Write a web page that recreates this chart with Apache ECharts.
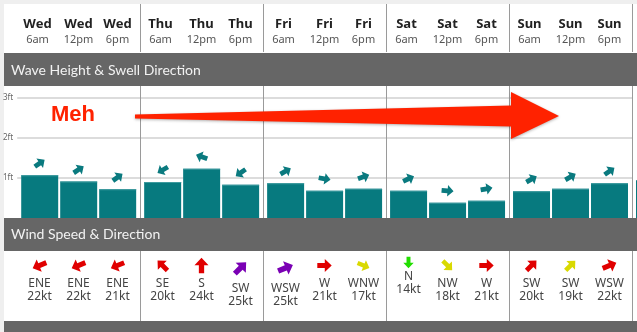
<!DOCTYPE html>
<html><head><meta charset="utf-8">
<script src="https://cdn.jsdelivr.net/npm/echarts@6/dist/echarts.min.js"></script>
<style>html,body{margin:0;padding:0;background:#efefef;}#c{width:637px;height:332px;}</style>
</head><body><div id="c"></div>
<script>
// ---- data ----
const slotLabels = ['Wed 6am','Wed 12pm','Wed 6pm','Thu 6am','Thu 12pm','Thu 6pm','Fri 6am','Fri 12pm','Fri 6pm','Sat 6am','Sat 12pm','Sat 6pm','Sun 6am','Sun 12pm','Sun 6pm','Mon 6am'];
const waveHeightFt = [1.07,0.91,0.72,0.90,1.23,0.83,0.87,0.68,0.73,0.68,0.38,0.43,0.67,0.73,0.87,0.95];
const swellArrowDeg = [55,57,54,240,290,235,60,100,70,65,95,80,60,60,55,60];
const windDir = ['ENE','ENE','ENE','SE','S','SW','WSW','W','WNW','N','NW','W','SW','SW','WSW'];
const windKt = [22,22,21,20,24,25,25,21,17,14,18,21,20,19,22];
const yTicksFt = [1,2,3];
const panelTitles = ['Wave Height & Swell Direction','Wind Speed & Direction'];
const noteText = 'Meh';

const compass = {N:0,NNE:22.5,NE:45,ENE:67.5,E:90,ESE:112.5,SE:135,SSE:157.5,S:180,SSW:202.5,SW:225,WSW:247.5,W:270,WNW:292.5,NW:315,NNW:337.5};

const WIND_SHAPE = [[0,-0.5],[0.45,-0.02],[0.17,-0.02],[0.17,0.5],[-0.17,0.5],[-0.17,-0.02],[-0.45,-0.02]];
const SWELL_SHAPE = [[0,-0.5],[0.48,0],[0.2,0],[0.2,0.5],[-0.2,0.5],[-0.2,0],[-0.48,0]];
function arrowPts(cx, cy, L, deg, shape){
  const t = deg*Math.PI/180, c = Math.cos(t), s = Math.sin(t);
  return shape.map(([u,v]) => [cx + (u*c - v*s)*L, cy + (u*s + v*c)*L]);
}
const slotShift = i => (1 - i % 3) * 2;

const waveData = waveHeightFt.map((h,i) => [i, h, swellArrowDeg[i]]);
const windData = windKt.map((k,i) => [i, k, (compass[windDir[i]] + 180) % 360]);

const chart = echarts.init(document.getElementById('c'), null, {renderer:'canvas'});
const sepInterval = (idx) => idx > 0 && idx % 3 === 0;
const sepLine = {show:true, interval: sepInterval, lineStyle:{color:'#9a9a9a', width:1}};
const FONT = '"Noto Sans", "DejaVu Sans", sans-serif';
const TFONT = 'Lato, "Noto Sans", sans-serif';
const baseX = {type:'category', data: slotLabels, min:0, max:14, boundaryGap:true, axisLine:{show:false}, axisTick:{show:false}, splitLine: sepLine};

chart.setOption({
  backgroundColor:'#efefef',
  animation:false,
  grid:[
    {left:17, right:5, top:4, height:48},
    {left:17, right:5, top:86, height:132},
    {left:17, right:5, top:251, height:70}
  ],
  xAxis:[
    Object.assign({}, baseX, {gridIndex:0, position:'bottom',
      axisLabel:{show:true, inside:true, margin:5, interval:0,
        formatter:(v, i) => { const p = v.split(' '); const k = (i % 3 === 2) ? 'R' : ''; return `{d${k}|${p[0]}}\n{t${k}|${p[1]}}`; },
        rich:{
          d:{fontFamily:FONT, fontWeight:'bold', fontSize:13, color:'#222', lineHeight:15},
          t:{fontFamily:FONT, fontSize:11, color:'#555', lineHeight:15},
          dR:{fontFamily:FONT, fontWeight:'bold', fontSize:13, color:'#222', lineHeight:15, padding:[0,4,0,0]},
          tR:{fontFamily:FONT, fontSize:11, color:'#555', lineHeight:15, padding:[0,4,0,0]}
        }}}),
    Object.assign({}, baseX, {gridIndex:1, axisLabel:{show:false}}),
    Object.assign({}, baseX, {gridIndex:2, axisLabel:{show:false}})
  ],
  yAxis:[
    {type:'value', gridIndex:0, min:0, max:1, show:false},
    {type:'value', gridIndex:1, min:0, max:3.3, interval:1,
      axisLine:{show:false}, axisTick:{show:false},
      axisLabel:{margin:4, fontSize:8, color:'#666', fontFamily:FONT,
        formatter: v => yTicksFt.includes(v) ? v + 'ft' : ''},
      splitLine:{show:true, showMinLine:false, showMaxLine:false, lineStyle:{color:'#dcdcdc', width:2}}},
    {type:'value', gridIndex:2, min:0, max:1, show:false}
  ],
  visualMap:{show:false, type:'piecewise', seriesIndex:1, dimension:1,
    pieces:[{lt:15, color:'#22dd00'},{gte:15, lt:20, color:'#d9d900'},{gte:20, lt:25, color:'#e00000'},{gte:25, color:'#7a00b4'}]},
  series:[
    {type:'custom', xAxisIndex:1, yAxisIndex:1, data: waveData, clip:false,
      renderItem:(params, api) => {
        const i = api.value(0), v = api.value(1), deg = api.value(2);
        const base = api.coord([i, 0]), top = api.coord([i, v]);
        const cx = base[0] + slotShift(i);
        const w = api.size([1, 0])[0] - 4;
        return {type:'group', children:[
          {type:'rect', shape:{x:cx - w/2, y:top[1], width:w, height:base[1]-top[1]}, style:{fill:'#077a7f'}},
          {type:'rect', shape:{x:cx - w/2, y:top[1], width:w, height:1}, style:{fill:'#3d9a9e'}},
          {type:'polygon', shape:{points: arrowPts(cx, top[1] - 12, 12, deg, SWELL_SHAPE)}, style:{fill:'#0a7a7f'}}
        ]};
      }},
    {type:'custom', xAxisIndex:2, yAxisIndex:2, data: windData, clip:false,
      renderItem:(params, api) => {
        const i = api.value(0), kt = api.value(1), deg = api.value(2);
        const cx = api.coord([i, 0])[0] + slotShift(i);
        const top = params.coordSys.y;
        const tier = kt < 15 ? 0 : (kt < 25 ? 1 : 2);
        const L = 6 + kt * 0.4;
        const ay = top + [11.5, 14.5, 17][tier];
        const ty = top + [26, 33, 38][tier];
        const color = api.visual('color');
        const ts = {align:'center', verticalAlign:'middle', font:'12px ' + FONT, fill:'#444'};
        return {type:'group', children:[
          {type:'polygon', shape:{points: arrowPts(cx, ay, L, deg, WIND_SHAPE)}, style:{fill:color}},
          {type:'text', style:Object.assign({text: windDir[i], x:cx, y:ty}, ts)},
          {type:'text', style:Object.assign({text: kt + 'kt', x:cx, y:ty + 12.5}, ts)}
        ]};
      }}
  ],
  graphic:[
    {type:'rect', z:-10, shape:{x:4, y:4, width:640, height:330}, style:{fill:'#ffffff'}},
    {type:'rect', z:-5, shape:{x:4, y:53, width:640, height:33}, style:{fill:'#666666'}},
    {type:'rect', z:-5, shape:{x:4, y:218, width:640, height:33}, style:{fill:'#666666'}},
    {type:'rect', z:-5, shape:{x:4, y:321, width:640, height:12}, style:{fill:'#666666'}},
    {type:'text', z:10, style:{text:panelTitles[0], x:11, y:70, verticalAlign:'middle', font:'14px ' + TFONT, fill:'#f2f2f2'}},
    {type:'text', z:10, style:{text:panelTitles[1], x:11, y:234.5, verticalAlign:'middle', font:'14px ' + TFONT, fill:'#f2f2f2'}},
    {type:'polygon', z:100, shape:{points:[[135,114.5],[511,105.5],[511,92],[559,116],[511,139],[511,126.5],[135,118.5]]},
      style:{fill:'#ff2200', shadowColor:'rgba(0,0,0,0.3)', shadowBlur:3, shadowOffsetY:1}},
    {type:'text', z:100, style:{text:noteText, x:73, y:114.5, align:'center', verticalAlign:'middle',
      font:'bold 22px "Liberation Sans", Arial, sans-serif', fill:'#ff2200', stroke:'#ffffff', lineWidth:2,
      shadowColor:'rgba(0,0,0,0.35)', shadowBlur:3, shadowOffsetY:1}}
  ]
});
</script></body></html>
